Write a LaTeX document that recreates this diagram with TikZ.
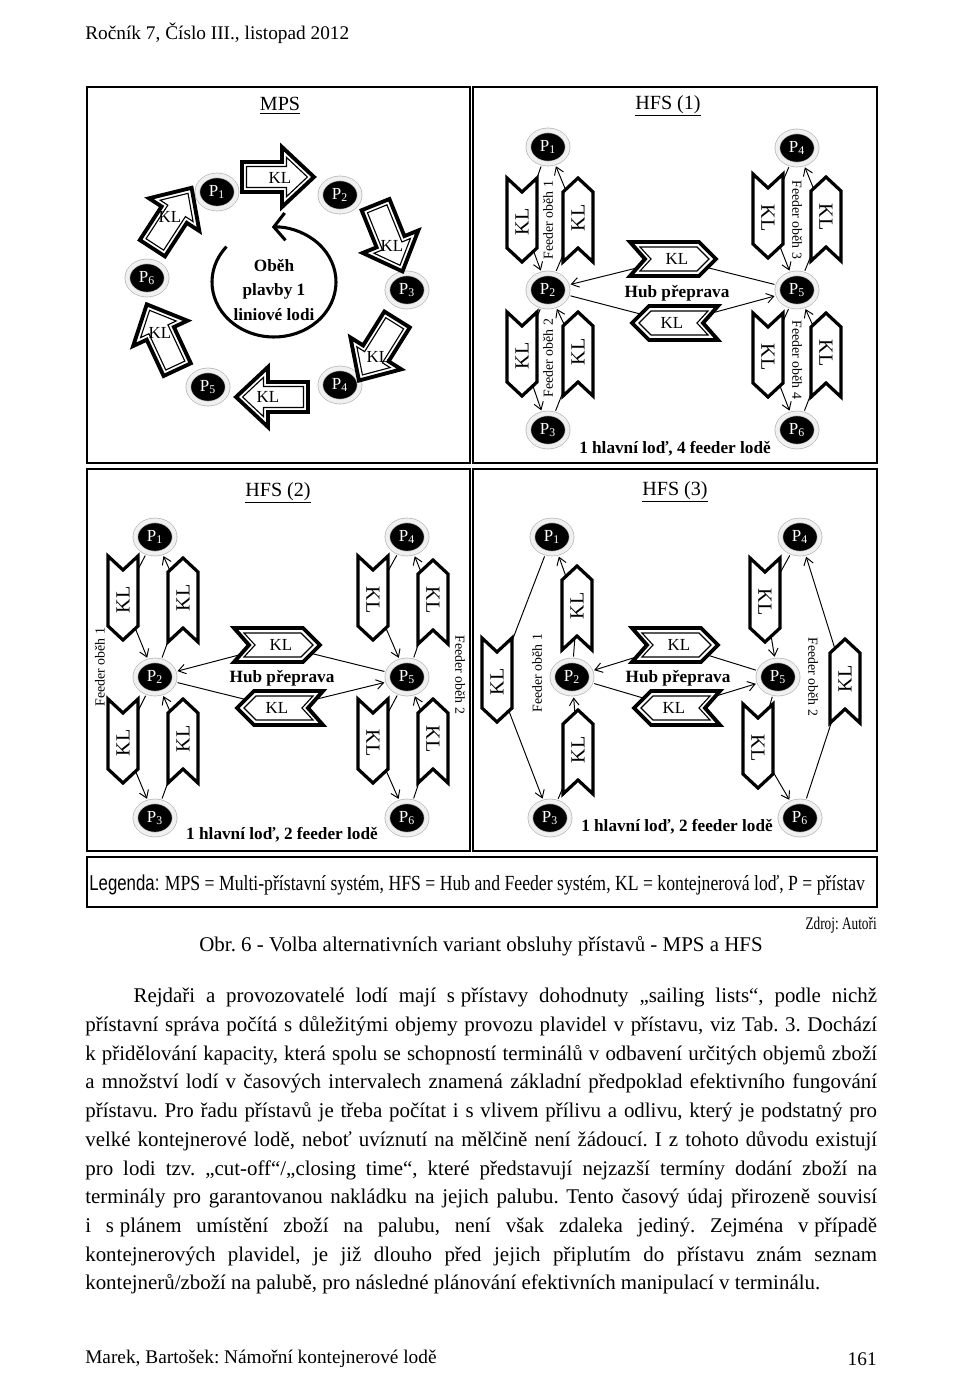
\documentclass[tikz,border=0pt]{standalone}
\usepackage{fontspec}
\setmainfont{Liberation Serif}
\newfontfamily\narrowf{Liberation Serif}[FakeStretch=0.82]
\newfontfamily\narrowz{Liberation Serif}[FakeStretch=0.75]
\newfontfamily\narrows{Liberation Sans}[FakeStretch=0.78]
\usetikzlibrary{arrows.meta,shapes.geometric}
\newcommand\fixsp{\nobreak\hspace{0.28em}}
\begin{document}
\frenchspacing
\begin{tikzpicture}[x=0.6214pt,y=-0.6214pt,
  panel/.style={draw, line width=0.8pt},
  port/.style={ellipse, fill=black, draw=gray!60, double=gray!12, double distance=2.6pt, line width=0.4pt,
    minimum width=24.4pt, minimum height=20.6pt, inner sep=0pt, text=white, font=\fontsize{10.5}{10.5}\selectfont},
  conn/.style={line width=0.6pt, shorten >=2.2pt, shorten <=2.2pt},
  tohead/.style={-{Straight Barb[length=4.5pt,width=6pt]}},
  kl/.style={font=\fontsize{10.5}{10.5}\selectfont, inner sep=0pt},
  klf/.style={font=\fontsize{12.5}{12.5}\selectfont, inner sep=0pt},
  ptitle/.style={font=\fontsize{12.5}{12.5}\selectfont, inner sep=0pt},
  btext/.style={font=\bfseries\fontsize{10.7}{10.7}\selectfont, inner sep=0pt},
  ftext/.style={font=\fontsize{8.6}{8.6}\selectfont, inner sep=0pt},
  ptext/.style={font=\fontsize{12}{12}\selectfont, inner sep=0pt},
  pics/feed/.style={code={
    \draw[line width=2pt, fill=white, line join=miter]
      (-42,-15) -- (28,-15) -- (42,0) -- (28,15) -- (-42,15) -- (-28,0) -- cycle;}},
  pics/hub/.style={code={
    \draw[line width=2.4pt, fill=white, line join=miter]
      (-43,-17) -- (26,-17) -- (43,0) -- (26,17) -- (-43,17) -- (-28,0) -- cycle;
    \draw[line width=0.7pt, line join=miter]
      (-33,-12) -- (24,-12) -- (36,0) -- (24,12) -- (-33,12) -- (-22,0) -- cycle;}},
  pics/blk/.style={code={
    \draw[line width=2.4pt, fill=white, line join=miter]
      (-36,-15) -- (4,-15) -- (4,-30) -- (36,0) -- (4,30) -- (4,15) -- (-36,15) -- cycle;
    \draw[line width=0.7pt, line join=miter]
      (-31.5,-10.5) -- (8.5,-10.5) -- (8.5,-19.6) -- (29.4,0) -- (8.5,19.6) -- (8.5,10.5) -- (-31.5,10.5) -- cycle;}}
]
\useasboundingbox[fill=white] (0,0) rectangle (960,1389);

% header
\node[ptext, anchor=west] (hdr) at (85,33) {Ročník 7, Číslo III., listopad 2012};

% panels
\draw[panel] (87,87) rectangle (470,463);
\draw[panel] (473,87) rectangle (877,463);
\draw[panel] (87,469) rectangle (470,851);
\draw[panel] (473,469) rectangle (877,851);

% ================= MPS =================
\node[ptitle] (tmps) at (280,106) {\underline{MPS}};
\node[port] (m1) at (217,192) {P\textsubscript{1}};
\node[port] (m2) at (340,195) {P\textsubscript{2}};
\node[port] (m3) at (407,290) {P\textsubscript{3}};
\node[port] (m4) at (340,385) {P\textsubscript{4}};
\node[port] (m5) at (208,387) {P\textsubscript{5}};
\node[port] (m6) at (147,278) {P\textsubscript{6}};
\pic at (278,177) {blk};
\pic[rotate=-68] at (389,238) {blk};
\pic[rotate=-122] at (378,350) {blk};
\pic[rotate=180] at (272,397) {blk};
\pic[rotate=115] at (162,337) {blk};
\pic[rotate=57] at (172,218) {blk};
\node[kl] (mk1) at (280,178) {KL};
\node[kl] (mk2) at (392,246) {KL};
\node[kl] (mk3) at (378,357) {KL};
\node[kl] (mk4) at (268,397) {KL};
\node[kl] (mk5) at (160,333) {KL};
\node[kl] (mk6) at (170,217) {KL};
\draw[line width=1.9pt, -{Straight Barb[length=7pt,width=17pt]}]
  (274,282) ++(-140:62 and 55) arc[start angle=-140, end angle=-452, x radius=62, y radius=55];
\node[btext, align=center, font=\bfseries\fontsize{10.7}{15}\selectfont] (obeh) at (274,290) {Oběh\\plavby 1\\liniové lodi};

% ================= HFS (1) =================
\node[ptitle] (th1) at (668,106) {\underline{HFS (1)}};
\node[port] (a1) at (548,147) {P\textsubscript{1}};
\node[port] (a2) at (548,290) {P\textsubscript{2}};
\node[port] (a3) at (548,430) {P\textsubscript{3}};
\node[port] (a4) at (797,148) {P\textsubscript{4}};
\node[port] (a5) at (797,290) {P\textsubscript{5}};
\node[port] (a6) at (797,430) {P\textsubscript{6}};
\coordinate (ca12) at (522,220);
\coordinate (ca21) at (578,220);
\coordinate (ca23) at (522,354);
\coordinate (ca32) at (578,354);
\coordinate (ca45) at (768,216);
\coordinate (ca54) at (826,219);
\coordinate (ca56) at (768,355);
\coordinate (ca65) at (826,355);
\coordinate (hat) at (673,259);
\coordinate (hab) at (675,323);
\draw[conn, tohead] (a1) -- (ca12) -- (a2);
\draw[conn, tohead] (a2) -- (ca21) -- (a1);
\draw[conn, tohead] (a2) -- (ca23) -- (a3);
\draw[conn, tohead] (a3) -- (ca32) -- (a2);
\draw[conn, tohead] (a4) -- (ca45) -- (a5);
\draw[conn, tohead] (a5) -- (ca54) -- (a4);
\draw[conn, tohead] (a5) -- (ca56) -- (a6);
\draw[conn, tohead] (a6) -- (ca65) -- (a5);
\draw[conn, tohead] (a5) -- (hat) -- (a2);
\draw[conn, tohead] (a2) -- (hab) -- (a5);
\pic[rotate=-90] at (ca12) {feed};
\pic[rotate=90] at (ca21) {feed};
\pic[rotate=-90] at (ca23) {feed};
\pic[rotate=90] at (ca32) {feed};
\pic[rotate=-90] at (ca45) {feed};
\pic[rotate=90] at (ca54) {feed};
\pic[rotate=-90] at (ca56) {feed};
\pic[rotate=90] at (ca65) {feed};
\pic at (hat) {hub};
\pic[rotate=180] at (hab) {hub};
\node[klf, rotate=90] (ak1) at (522,222) {KL};
\node[klf, rotate=90] (ak2) at (578,218) {KL};
\node[klf, rotate=90] (ak3) at (522,356) {KL};
\node[klf, rotate=90] (ak4) at (578,352) {KL};
\node[klf, rotate=-90] (ak5) at (768,218) {KL};
\node[klf, rotate=-90] (ak6) at (826,217) {KL};
\node[klf, rotate=-90] (ak7) at (768,357) {KL};
\node[klf, rotate=-90] (ak8) at (826,353) {KL};
\node[kl] (ak9) at (677,259) {KL};
\node[kl] (ak10) at (672,323) {KL};
\node[ftext, rotate=90] (af1) at (548,220) {Feeder oběh 1};
\node[ftext, rotate=90] (af2) at (548,358) {Feeder oběh 2};
\node[ftext, rotate=-90] (af3) at (797,220) {Feeder oběh 3};
\node[ftext, rotate=-90] (af4) at (797,360) {Feeder oběh 4};
\node[btext] (ahub) at (677,293) {Hub přeprava};
\node[btext] (asum) at (675,449) {1 hlavní loď, 4 feeder lodě};

% ================= HFS (2) =================
\node[ptitle] (th2) at (278,493) {\underline{HFS (2)}};
\node[port] (b1) at (155,537) {P\textsubscript{1}};
\node[port] (b2) at (155,677) {P\textsubscript{2}};
\node[port] (b3) at (155,818) {P\textsubscript{3}};
\node[port] (b4) at (407,537) {P\textsubscript{4}};
\node[port] (b5) at (407,677) {P\textsubscript{5}};
\node[port] (b6) at (407,818) {P\textsubscript{6}};
\coordinate (cb12) at (123,598);
\coordinate (cb21) at (183,600);
\coordinate (cb23) at (123,741);
\coordinate (cb32) at (183,741);
\coordinate (cb45) at (373,598);
\coordinate (cb54) at (433,602);
\coordinate (cb56) at (373,741);
\coordinate (cb65) at (433,741);
\coordinate (hbt) at (277,645);
\coordinate (hbb) at (280,708);
\draw[conn, tohead] (b1) -- (cb12) -- (b2);
\draw[conn, tohead] (b2) -- (cb21) -- (b1);
\draw[conn, tohead] (b2) -- (cb23) -- (b3);
\draw[conn, tohead] (b3) -- (cb32) -- (b2);
\draw[conn, tohead] (b4) -- (cb45) -- (b5);
\draw[conn, tohead] (b5) -- (cb54) -- (b4);
\draw[conn, tohead] (b5) -- (cb56) -- (b6);
\draw[conn, tohead] (b6) -- (cb65) -- (b5);
\draw[conn, tohead] (b5) -- (hbt) -- (b2);
\draw[conn, tohead] (b2) -- (hbb) -- (b5);
\pic[rotate=-90] at (cb12) {feed};
\pic[rotate=90] at (cb21) {feed};
\pic[rotate=-90] at (cb23) {feed};
\pic[rotate=90] at (cb32) {feed};
\pic[rotate=-90] at (cb45) {feed};
\pic[rotate=90] at (cb54) {feed};
\pic[rotate=-90] at (cb56) {feed};
\pic[rotate=90] at (cb65) {feed};
\pic at (hbt) {hub};
\pic[rotate=180] at (hbb) {hub};
\node[klf, rotate=90] (bk1) at (123,600) {KL};
\node[klf, rotate=90] (bk2) at (183,598) {KL};
\node[klf, rotate=90] (bk3) at (123,743) {KL};
\node[klf, rotate=90] (bk4) at (183,739) {KL};
\node[klf, rotate=-90] (bk5) at (373,600) {KL};
\node[klf, rotate=-90] (bk6) at (433,600) {KL};
\node[klf, rotate=-90] (bk7) at (373,743) {KL};
\node[klf, rotate=-90] (bk8) at (433,739) {KL};
\node[kl] (bk9) at (281,645) {KL};
\node[kl] (bk10) at (277,708) {KL};
\node[ftext, rotate=90] (bf1) at (100,667) {Feeder oběh 1};
\node[ftext, rotate=-90] (bf2) at (460,675) {Feeder oběh 2};
\node[btext] (bhub) at (282,678) {Hub přeprava};
\node[btext] (bsum) at (282,835) {1 hlavní loď, 2 feeder lodě};

% ================= HFS (3) =================
\node[ptitle] (th3) at (675,492) {\underline{HFS (3)}};
\node[port] (c1) at (552,537) {P\textsubscript{1}};
\node[port] (c2) at (572,677) {P\textsubscript{2}};
\node[port] (c3) at (550,818) {P\textsubscript{3}};
\node[port] (c4) at (800,537) {P\textsubscript{4}};
\node[port] (c5) at (778,677) {P\textsubscript{5}};
\node[port] (c6) at (800,818) {P\textsubscript{6}};
\coordinate (cc13) at (497,680);
\coordinate (cc32) at (578,752);
\coordinate (cc21) at (577,608);
\coordinate (cc45) at (765,600);
\coordinate (cc56) at (758,746);
\coordinate (cc64) at (845,681);
\coordinate (hct) at (675,645);
\coordinate (hcb) at (677,708);
\draw[conn, tohead] (c1) -- (cc13) -- (c3);
\draw[conn, tohead] (c3) -- (cc32) -- (c2);
\draw[conn, tohead] (c2) -- (cc21) -- (c1);
\draw[conn, tohead] (c4) -- (cc45) -- (c5);
\draw[conn, tohead] (c5) -- (cc56) -- (c6);
\draw[conn, tohead] (c6) -- (cc64) -- (c4);
\draw[conn, tohead] (c5) -- (hct) -- (c2);
\draw[conn, tohead] (c2) -- (hcb) -- (c5);
\pic[rotate=-90] at (cc13) {feed};
\pic[rotate=90] at (cc32) {feed};
\pic[rotate=90] at (cc21) {feed};
\pic[rotate=-90] at (cc45) {feed};
\pic[rotate=-90] at (cc56) {feed};
\pic[rotate=90] at (cc64) {feed};
\pic at (hct) {hub};
\pic[rotate=180] at (hcb) {hub};
\node[klf, rotate=90] (ck1) at (497,682) {KL};
\node[klf, rotate=90] (ck2) at (578,750) {KL};
\node[klf, rotate=90] (ck3) at (577,606) {KL};
\node[klf, rotate=-90] (ck4) at (765,602) {KL};
\node[klf, rotate=-90] (ck5) at (758,748) {KL};
\node[klf, rotate=90] (ck6) at (845,679) {KL};
\node[kl] (ck7) at (679,645) {KL};
\node[kl] (ck8) at (674,708) {KL};
\node[ftext, rotate=90] (cf1) at (537,673) {Feeder oběh 1};
\node[ftext, rotate=-90] (cf2) at (813,677) {Feeder oběh 2};
\node[btext] (chub) at (678,678) {Hub přeprava};
\node[btext] (csum) at (677,827) {1 hlavní loď, 2 feeder lodě};

% legend
\draw[panel] (87,857) rectangle (877,907);
\node[anchor=west, inner sep=0pt, font=\fontsize{13.4}{13.4}\selectfont] (leg) at (89,885)
  {{\narrows Legenda:} \narrowf MPS = Multi-přístavní systém, HFS = Hub and Feeder systém, KL = kontejnerová loď, P = přístav};
\node[anchor=east, inner sep=0pt, font=\narrowz\fontsize{11}{11}\selectfont] (zdroj) at (877,925) {Zdroj: Autoři};
\node[inner sep=0pt, font=\fontsize{13}{13}\selectfont] (cap) at (481,946) {Obr. 6 - Volba alternativních variant obsluhy přístavů - MPS a HFS};

% body text
\node[anchor=north west, inner sep=0pt] (body) at (85,988) {\parbox[t]{492pt}{\fontsize{13}{17.83}\selectfont\frenchspacing
\hspace*{30pt}Rejdaři a provozovatelé lodí mají s\fixsp přístavy dohodnuty „sailing lists“, podle nichž\linebreak
přístavní správa počítá s důležitými objemy provozu plavidel v přístavu, viz Tab. 3. Dochází\linebreak
k přidělování kapacity, která spolu se schopností terminálů v odbavení určitých objemů zboží\linebreak
a množství lodí v časových intervalech znamená základní předpoklad efektivního fungování\linebreak
přístavu. Pro řadu přístavů je třeba počítat i s vlivem přílivu a odlivu, který je podstatný pro\linebreak
velké kontejnerové lodě, neboť uvíznutí na mělčině není žádoucí. I z tohoto důvodu existují\linebreak
pro lodi tzv. „cut-off“/„closing time“, které představují nejzazší termíny dodání zboží na\linebreak
terminály pro garantovanou nakládku na jejich palubu. Tento časový údaj přirozeně souvisí\linebreak
i s\fixsp plánem umístění zboží na palubu, není však zdaleka jediný. Zejména v\fixsp případě\linebreak
kontejnerových plavidel, je již dlouho před jejich připlutím do přístavu znám seznam\linebreak
kontejnerů/zboží na palubě, pro následné plánování efektivních manipulací v terminálu.}};

% footer
\node[ptext, anchor=west] (ftl) at (85,1359) {Marek, Bartošek: Námořní kontejnerové lodě};
\node[ptext, anchor=east] (ftr) at (877,1359) {161};
\end{tikzpicture}
\end{document}
